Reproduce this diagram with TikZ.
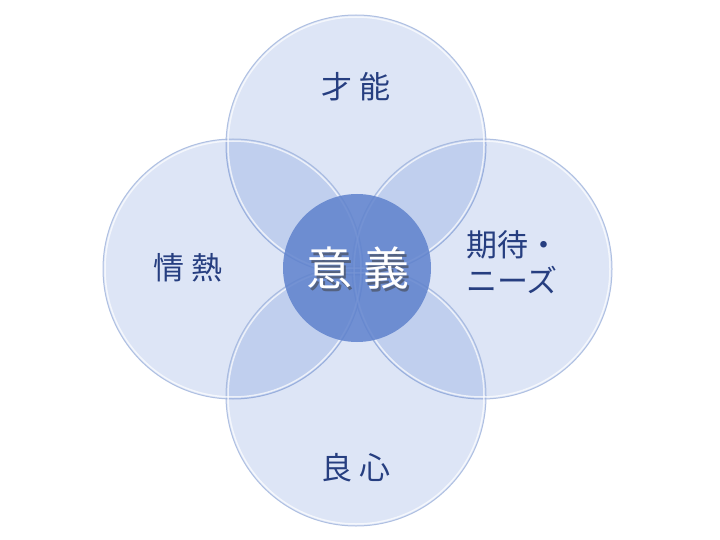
\documentclass[tikz,border=0pt]{standalone}
\usepackage{fontspec}
\newfontfamily\jp{Noto Sans CJK JP}
\definecolor{circfill}{RGB}{28,82,195}
\definecolor{circedge}{RGB}{160,180,220}
\definecolor{txtblue}{RGB}{38,62,128}
\definecolor{centfill}{RGB}{95,130,205}
\tikzset{
  petal/.style={circle, minimum size=260pt, inner sep=0pt, fill=circfill, fill opacity=0.15, draw=circedge, draw opacity=0.8, line width=1pt},
  rim/.style={circle, minimum size=256pt, inner sep=0pt, draw=white, draw opacity=0.7, line width=1.5pt},
  lbl/.style={font=\jp\fontsize{31pt}{36pt}\selectfont, text=txtblue, align=left},
  core/.style={circle, minimum size=148pt, inner sep=0pt, fill=centfill, fill opacity=0.85, draw=none},
  coretxt/.style={font=\jp\fontsize{46pt}{50pt}\selectfont, text=white}
}
\begin{document}
\begin{tikzpicture}[x=1pt,y=-1pt]
\useasboundingbox[fill=white] (0,0) rectangle (720,540);
\node[petal] (top) at (356,145) {};
\node[petal] (left) at (233,269) {};
\node[petal] (right) at (482,269) {};
\node[petal] (bottom) at (356,396) {};
\node[rim] at (356,145) {};
\node[rim] at (233,269) {};
\node[rim] at (482,269) {};
\node[rim] at (356,396) {};
\node[core] (c) at (357,268) {};
\node[coretxt, text=black!75, opacity=0.55] at (360,271) {意 義};
\node[coretxt] (ctext) at (358,268) {意 義};
\node[lbl] (t1) at (356,87) {才 能};
\node[lbl] (t2) at (188,268) {情 熱};
\node[lbl] (t3) at (513,262) {期待・\\ニーズ};
\node[lbl] (t4) at (356,468) {良 心};
\end{tikzpicture}
\end{document}
